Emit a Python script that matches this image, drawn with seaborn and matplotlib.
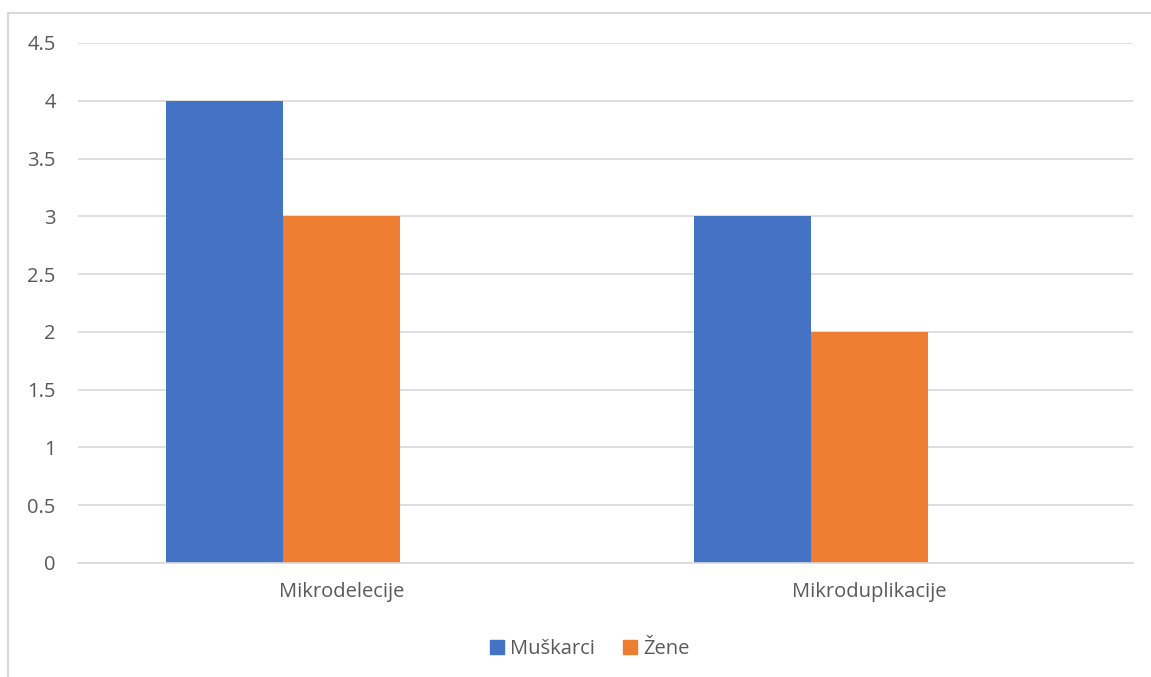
import pandas as pd
import matplotlib.pyplot as plt
import matplotlib.patches as mpatches
import seaborn as sns

categories = ['Mikrodelecije', 'Mikroduplikacije']
series = ['Muškarci', 'Žene']
muskarci = [4, 3]
zene = [3, 2]
colors = ['#4472C4', '#ED7D31']

df = pd.DataFrame({
    'kategorija': categories * 2,
    'spol': [series[0]] * 2 + [series[1]] * 2,
    'broj': muskarci + zene,
})

sns.set_theme(style='white')
plt.rcParams['font.family'] = ['Open Sans', 'DejaVu Sans']

fig = plt.figure(figsize=(11.51, 6.77), dpi=100)
ax = fig.add_axes([0.0678, 0.1684, 0.9166, 0.7681])

# okvir grafikona (Excel stil)
fig.patches.append(mpatches.Rectangle((8 / 1151, -0.1), 1.2, (677 - 13) / 677 + 0.1,
                                      transform=fig.transFigure, fill=False,
                                      edgecolor='#D9D9D9', linewidth=1.5))

# treca (prazna) serija zauzima mjesto kao u Excelu
hue_order = series + ['']
sns.barplot(data=df, x='kategorija', y='broj', hue='spol', hue_order=hue_order,
            palette=colors + ['#FFFFFF'], width=0.666, saturation=1, ax=ax,
            linewidth=0, legend=False)

ax.set_xlim(-0.5, 1.5)
ax.set_ylim(0, 4.5)
ax.set_yticks([0, 0.5, 1, 1.5, 2, 2.5, 3, 3.5, 4, 4.5])
ax.set_yticklabels(['0', '0.5', '1', '1.5', '2', '2.5', '3', '3.5', '4', '4.5'])
ax.yaxis.grid(True, color='#D9D9D9', linewidth=1.2)
ax.set_axisbelow(True)
for s in ['top', 'right', 'left']:
    ax.spines[s].set_visible(False)
ax.spines['bottom'].set_color('#D9D9D9')
ax.spines['bottom'].set_linewidth(1.2)
ax.tick_params(axis='both', length=0, labelsize=14.5, colors='#595959')
ax.tick_params(axis='y', pad=16)
ax.tick_params(axis='x', pad=14)
ax.set_xlabel('')
ax.set_ylabel('')

handles = [mpatches.Patch(color=c, label=l) for c, l in zip(colors, series)]
ax.legend(handles=handles, loc='center', bbox_to_anchor=(0.485, -0.166), ncol=2,
          frameon=False, fontsize=14.5, labelcolor='#595959', handlelength=0.7,
          handleheight=0.7, handletextpad=0.3, columnspacing=1.4)

plt.savefig('out.png', dpi=100)
